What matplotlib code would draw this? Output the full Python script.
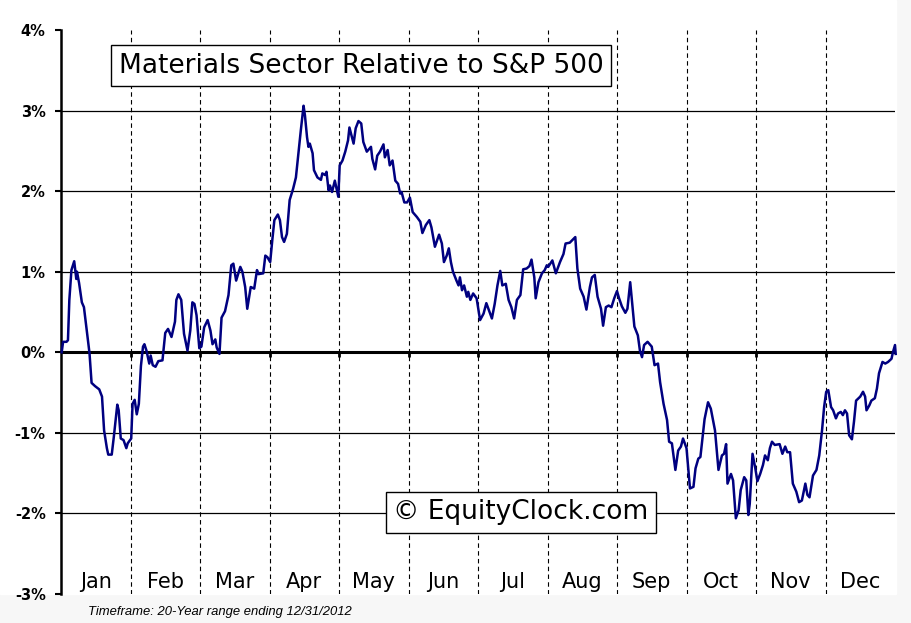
"""Materials sector seasonal relative performance vs S&P 500 (EquityClock style)."""

import matplotlib

matplotlib.use("Agg")
import matplotlib.pyplot as plt
from matplotlib.patches import Rectangle

MONTHS = ["Jan", "Feb", "Mar", "Apr", "May", "Jun",
          "Jul", "Aug", "Sep", "Oct", "Nov", "Dec"]
YTICKS = [-3, -2, -1, 0, 1, 2, 3, 4]

# position in months since Jan 1, relative performance in %
month_pos = [
    0.01, 0.03, 0.08, 0.10, 0.12, 0.15, 0.19, 0.22, 0.23, 0.26, 0.30, 0.33,
    0.37, 0.41, 0.44, 0.49, 0.55, 0.59, 0.62, 0.66, 0.68, 0.73, 0.76, 0.81,
    0.83, 0.86, 0.90, 0.94, 0.96, 1.01, 1.03, 1.06, 1.09, 1.12, 1.15, 1.18,
    1.20, 1.23, 1.27, 1.29, 1.32, 1.36, 1.40, 1.46, 1.50, 1.54, 1.59, 1.64,
    1.66, 1.69, 1.73, 1.77, 1.82, 1.86, 1.89, 1.92, 1.95, 1.99, 2.02, 2.06,
    2.11, 2.15, 2.18, 2.22, 2.24, 2.28, 2.31, 2.36, 2.41, 2.45, 2.48, 2.52,
    2.58, 2.61, 2.65, 2.68, 2.73, 2.78, 2.82, 2.84, 2.91, 2.94, 2.97, 3.01,
    3.04, 3.07, 3.12, 3.15, 3.18, 3.21, 3.25, 3.29, 3.34, 3.38, 3.41, 3.45,
    3.49, 3.51, 3.54, 3.56, 3.58, 3.62, 3.64, 3.69, 3.74, 3.76, 3.80, 3.82,
    3.85, 3.87, 3.90, 3.94, 3.99, 4.01, 4.05, 4.09, 4.13, 4.15, 4.18, 4.21,
    4.24, 4.28, 4.32, 4.35, 4.40, 4.46, 4.48, 4.52, 4.55, 4.59, 4.64, 4.66,
    4.70, 4.73, 4.77, 4.81, 4.85, 4.88, 4.90, 4.94, 4.98, 5.02, 5.06, 5.12,
    5.17, 5.20, 5.25, 5.30, 5.33, 5.38, 5.44, 5.48, 5.51, 5.55, 5.58, 5.61,
    5.64, 5.69, 5.72, 5.74, 5.77, 5.80, 5.84, 5.86, 5.89, 5.93, 5.98, 6.03,
    6.08, 6.12, 6.15, 6.20, 6.24, 6.28, 6.32, 6.35, 6.40, 6.44, 6.48, 6.52,
    6.56, 6.61, 6.65, 6.70, 6.74, 6.77, 6.81, 6.83, 6.87, 6.92, 6.96, 6.99,
    7.01, 7.07, 7.12, 7.18, 7.23, 7.26, 7.32, 7.40, 7.43, 7.47, 7.52, 7.56,
    7.61, 7.64, 7.68, 7.72, 7.77, 7.80, 7.84, 7.88, 7.92, 7.96, 8.00, 8.03,
    8.07, 8.12, 8.15, 8.19, 8.22, 8.25, 8.30, 8.33, 8.36, 8.39, 8.44, 8.50,
    8.54, 8.59, 8.62, 8.67, 8.72, 8.75, 8.79, 8.84, 8.88, 8.92, 8.95, 9.00,
    9.05, 9.10, 9.13, 9.17, 9.20, 9.26, 9.31, 9.35, 9.41, 9.46, 9.51, 9.54,
    9.57, 9.59, 9.64, 9.67, 9.71, 9.75, 9.78, 9.83, 9.86, 9.89, 9.91, 9.95,
    9.99, 10.02, 10.06, 10.10, 10.13, 10.17, 10.20, 10.23, 10.27, 10.34, 10.38, 10.42,
    10.45, 10.49, 10.53, 10.58, 10.62, 10.66, 10.71, 10.74, 10.77, 10.82, 10.87, 10.91,
    10.95, 10.98, 11.01, 11.04, 11.08, 11.11, 11.15, 11.18, 11.22, 11.25, 11.28, 11.31,
    11.34, 11.38, 11.41, 11.44, 11.50, 11.54, 11.57, 11.59, 11.63, 11.66, 11.71, 11.74,
    11.77, 11.82, 11.86, 11.90, 11.95, 11.97, 12.00, 12.01,
]
rel_pct = [
    0.00, 0.13, 0.13, 0.15, 0.65, 1.02, 1.13, 0.91, 1.00, 0.86, 0.62, 0.56,
    0.27, -0.01, -0.38, -0.42, -0.46, -0.55, -0.97, -1.19, -1.27, -1.27, -1.05, -0.65,
    -0.72, -1.07, -1.09, -1.19, -1.13, -1.07, -0.64, -0.59, -0.77, -0.64, -0.17, 0.07,
    0.10, 0.02, -0.14, -0.04, -0.16, -0.18, -0.11, -0.10, 0.24, 0.29, 0.19, 0.38,
    0.65, 0.72, 0.65, 0.23, 0.02, 0.27, 0.62, 0.60, 0.46, 0.05, 0.07, 0.31,
    0.40, 0.27, 0.10, 0.16, 0.06, -0.02, 0.43, 0.51, 0.71, 1.08, 1.10, 0.89,
    1.06, 1.00, 0.81, 0.54, 0.81, 0.79, 1.02, 0.97, 0.98, 1.20, 1.18, 1.12,
    1.39, 1.64, 1.71, 1.64, 1.43, 1.37, 1.47, 1.89, 2.03, 2.17, 2.42, 2.75,
    3.06, 2.94, 2.67, 2.55, 2.59, 2.47, 2.26, 2.17, 2.14, 2.22, 2.20, 2.24,
    2.01, 2.07, 1.99, 2.13, 1.93, 2.32, 2.38, 2.49, 2.63, 2.79, 2.69, 2.59,
    2.78, 2.87, 2.84, 2.61, 2.49, 2.55, 2.40, 2.27, 2.44, 2.49, 2.58, 2.42,
    2.51, 2.32, 2.38, 2.13, 2.09, 1.97, 1.99, 1.86, 1.86, 1.92, 1.74, 1.68,
    1.62, 1.48, 1.58, 1.64, 1.55, 1.31, 1.46, 1.35, 1.12, 1.20, 1.29, 1.12,
    1.00, 0.89, 0.83, 0.93, 0.77, 0.83, 0.69, 0.75, 0.65, 0.73, 0.67, 0.40,
    0.48, 0.61, 0.54, 0.42, 0.60, 0.83, 1.01, 0.83, 0.85, 0.65, 0.56, 0.42,
    0.65, 0.71, 1.03, 1.04, 1.07, 1.15, 0.93, 0.67, 0.87, 0.98, 1.02, 1.08,
    1.06, 1.14, 0.98, 1.12, 1.22, 1.35, 1.36, 1.43, 1.04, 0.79, 0.69, 0.53,
    0.81, 0.93, 0.96, 0.69, 0.54, 0.33, 0.56, 0.58, 0.56, 0.67, 0.76, 0.67,
    0.57, 0.49, 0.54, 0.87, 0.60, 0.32, 0.21, 0.02, -0.06, 0.09, 0.13, 0.07,
    -0.16, -0.14, -0.37, -0.64, -0.84, -1.11, -1.13, -1.46, -1.22, -1.17, -1.07, -1.19,
    -1.69, -1.67, -1.44, -1.32, -1.30, -0.83, -0.62, -0.70, -0.97, -1.46, -1.28, -1.26,
    -1.14, -1.63, -1.51, -1.59, -2.06, -1.96, -1.71, -1.55, -1.59, -2.02, -1.88, -1.26,
    -1.44, -1.60, -1.51, -1.40, -1.28, -1.34, -1.19, -1.11, -1.15, -1.14, -1.26, -1.17,
    -1.24, -1.24, -1.63, -1.73, -1.86, -1.84, -1.63, -1.77, -1.80, -1.53, -1.46, -1.28,
    -0.97, -0.68, -0.49, -0.47, -0.68, -0.72, -0.82, -0.76, -0.74, -0.78, -0.72, -0.76,
    -1.03, -1.08, -0.86, -0.60, -0.55, -0.49, -0.55, -0.72, -0.66, -0.60, -0.57, -0.45,
    -0.26, -0.12, -0.14, -0.12, -0.08, 0.00, 0.09, -0.02,
]

W, H = 911, 623
fig = plt.figure(figsize=(W / 100, H / 100), dpi=100, facecolor="#f7f7f7")
# white chart panel behind the axes (grey strip left at bottom and right edge)
fig.patches.append(Rectangle((0, 29 / H), 896 / W, 1 - 29 / H,
                             transform=fig.transFigure, color="white", zorder=-10))

ax = fig.add_axes([61 / W, 29 / H, 834 / W, 564 / H])
ax.set_facecolor("white")
ax.set_xlim(0, 12)
ax.set_ylim(-3, 4)

# grid: solid horizontals, thick zero line, dashed month separators
for v in YTICKS:
    if v in (-3, 4):
        continue
    ax.axhline(v, color="black", lw=2.2 if v == 0 else 0.9, zorder=2)
for m in range(1, 12):
    ax.axvline(m, color="black", lw=0.8, linestyle=(0, (4, 3)), zorder=1)
ax.vlines(range(1, 12), -0.06, 0, color="black", lw=2, zorder=2)

ax.plot(month_pos, rel_pct, color="#000080", lw=1.8, zorder=3, clip_on=False)

for spine in ("top", "right", "bottom"):
    ax.spines[spine].set_visible(False)
ax.spines["left"].set_linewidth(1.8)
ax.set_xticks([])
ax.set_yticks(YTICKS)
ax.set_yticklabels([f"{v}%" for v in YTICKS], fontsize=10.5, fontweight="bold",
                   family="DejaVu Sans")
ax.tick_params(axis="y", length=4, width=1.5, pad=7)

for i, name in enumerate(MONTHS):
    ax.text(i + 0.5, -2.93, name, ha="center", va="baseline", fontsize=15,
            family="DejaVu Sans", zorder=4)

box = dict(boxstyle="square,pad=0.28", facecolor="white", edgecolor="black", lw=1)
ax.text(0.360, 0.937, "Materials Sector Relative to S&P 500", transform=ax.transAxes,
        ha="center", va="center", fontsize=19, family="DejaVu Sans", bbox=box, zorder=5)
ax.text(0.551, 0.145, "\u00a9 EquityClock.com", transform=ax.transAxes,
        ha="center", va="center", fontsize=19, family="DejaVu Sans", bbox=box, zorder=5)

fig.text(88 / W, (H - 612) / H, "Timeframe: 20-Year range ending 12/31/2012",
         ha="left", va="center", fontsize=9.4, style="italic", family="Liberation Sans")

fig.savefig("out.png", dpi=100, facecolor=fig.get_facecolor())
